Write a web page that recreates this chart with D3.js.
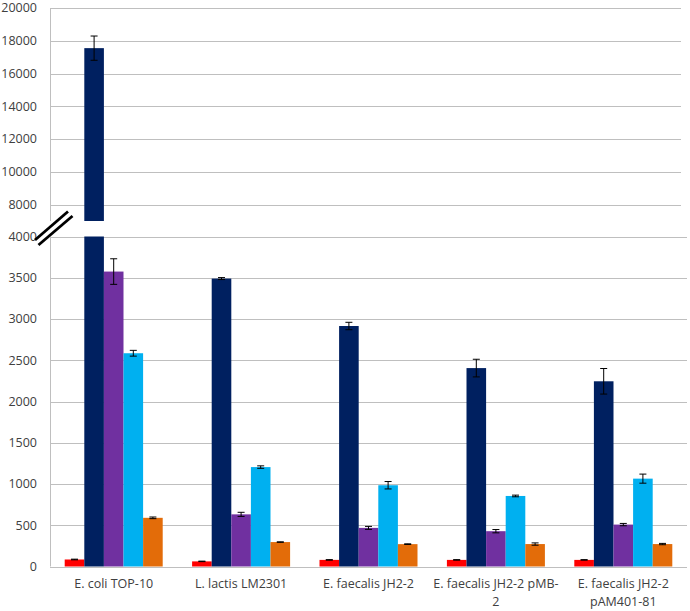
<!DOCTYPE html>
<html>
<head>
<meta charset="utf-8">
<script src="https://cdn.jsdelivr.net/npm/d3@7"></script>
<style>
  html, body { margin: 0; padding: 0; background: #fff; }
  svg { display: block; }
  text { font-family: "Open Sans", "Liberation Sans", sans-serif; }
</style>
</head>
<body>
<svg id="chart" width="690" height="611"></svg>
<script>
// ---- data ----
const categories = ["E. coli TOP-10", "L. lactis LM2301", "E. faecalis JH2-2", "E. faecalis JH2-2 pMB-2", "E. faecalis JH2-2 pAM401-81"];
const categoryLines = [["E. coli TOP-10"], ["L. lactis LM2301"], ["E. faecalis JH2-2"], ["E. faecalis JH2-2 pMB-", "2"], ["E. faecalis JH2-2", "pAM401-81"]];
const seriesNames = ["s1", "s2", "s3", "s4", "s5"];
const seriesColors = ["#ff0000", "#002060", "#7030a0", "#00b0f0", "#e36c09"];
const s1 = [85, 62, 80, 80, 80];
const s2 = [17550, 3490, 2915, 2405, 2245];
const s3 = [3575, 632, 468, 428, 508];
const s4 = [2585, 1205, 985, 855, 1065];
const s5 = [590, 296, 271, 272, 272];
const e1 = [4, 3, 3, 3, 3];
const e2 = [740, 12, 45, 107, 155];
const e3 = [155, 25, 18, 20, 14];
const e4 = [35, 15, 45, 10, 55];
const e5 = [10, 3, 4, 14, 8];
const lowerTicks = [0, 500, 1000, 1500, 2000, 2500, 3000, 3500, 4000];
const upperTicks = [8000, 10000, 12000, 14000, 16000, 18000, 20000];
const breakLow = 4000, breakHigh = 7000, upperMax = 20000;

const values = [s1, s2, s3, s4, s5];
const errors = [e1, e2, e3, e4, e5];

const svg = d3.select("#chart");
const left = 50, right = 687, rightUpper = 681;

const x0 = d3.scaleBand().domain(categories).range([left, right]);
const bw = x0.bandwidth();
const x1 = d3.scaleBand().domain(seriesNames).range([bw / 2 - 49, bw / 2 + 49]);

const yLow = d3.scaleLinear().domain([0, breakLow]).range([566.5, 236.5]);
const yUp = d3.scaleLinear().domain([breakHigh, upperMax]).range([221, 8]);

const gridColor = "#bfbfbf";
const textColor = "#404040";

// gridlines
svg.append("g").selectAll("line").data(lowerTicks).join("line")
  .attr("x1", left).attr("x2", right)
  .attr("y1", d => Math.round(yLow(d)) + 0.5).attr("y2", d => Math.round(yLow(d)) + 0.5)
  .attr("stroke", gridColor).attr("stroke-width", 1.2);
svg.append("g").selectAll("line").data(upperTicks).join("line")
  .attr("x1", left).attr("x2", rightUpper)
  .attr("y1", d => Math.round(yUp(d)) + 0.5).attr("y2", d => Math.round(yUp(d)) + 0.5)
  .attr("stroke", gridColor).attr("stroke-width", 1.2);

// y axis lines
svg.append("line").attr("x1", left + 0.5).attr("x2", left + 0.5)
  .attr("y1", yUp(upperMax)).attr("y2", yUp(breakHigh)).attr("stroke", gridColor);
svg.append("line").attr("x1", left + 0.5).attr("x2", left + 0.5)
  .attr("y1", yLow(breakLow)).attr("y2", yLow(0)).attr("stroke", gridColor);

// tick labels
svg.append("g").selectAll("text").data(lowerTicks).join("text")
  .attr("x", 37).attr("y", d => yLow(d)).attr("dy", "0.35em")
  .attr("text-anchor", "end").attr("font-size", 12.5).attr("fill", textColor)
  .text(d => d);
svg.append("g").selectAll("text").data(upperTicks).join("text")
  .attr("x", 37).attr("y", d => yUp(d)).attr("dy", "0.35em")
  .attr("text-anchor", "end").attr("font-size", 12.5).attr("fill", textColor)
  .text(d => d);

// bars
const bars = [];
values.forEach((arr, si) => {
  arr.forEach((v, ci) => {
    bars.push({ si, ci, v, e: errors[si][ci], cat: categories[ci], ser: seriesNames[si] });
  });
});

const gBars = svg.append("g");
bars.forEach(b => {
  const xb = x0(b.cat) + x1(b.ser);
  const w = x1.bandwidth();
  const lowTop = yLow(Math.min(b.v, breakLow));
  gBars.append("rect").attr("x", xb).attr("width", w)
    .attr("y", lowTop).attr("height", yLow(0) - lowTop)
    .attr("fill", seriesColors[b.si]);
  if (b.v > breakLow) {
    const upTop = yUp(b.v);
    gBars.append("rect").attr("x", xb).attr("width", w)
      .attr("y", upTop).attr("height", yUp(breakHigh) - upTop)
      .attr("fill", seriesColors[b.si]);
  }
});

// error bars
const gErr = svg.append("g").attr("stroke", "#000").attr("stroke-width", 1);
bars.forEach(b => {
  const cx = x0(b.cat) + x1(b.ser) + x1.bandwidth() / 2;
  const sc = b.v > breakLow ? yUp : yLow;
  const yTop = sc(b.v + b.e), yBot = sc(b.v - b.e);
  gErr.append("line").attr("x1", cx).attr("x2", cx).attr("y1", yTop).attr("y2", yBot);
  gErr.append("line").attr("x1", cx - 3.5).attr("x2", cx + 3.5).attr("y1", yTop).attr("y2", yTop);
  gErr.append("line").attr("x1", cx - 3.5).attr("x2", cx + 3.5).attr("y1", yBot).attr("y2", yBot);
});

// axis break mark
const gBreak = svg.append("g");
gBreak.append("line").attr("x1", 36).attr("y1", 242.5).attr("x2", 70).attr("y2", 214)
  .attr("stroke", "#fff").attr("stroke-width", 5);
gBreak.append("line").attr("x1", 35).attr("y1", 240).attr("x2", 68).attr("y2", 211.5)
  .attr("stroke", "#000").attr("stroke-width", 2.8);
gBreak.append("line").attr("x1", 38.5).attr("y1", 245).attr("x2", 72.5).attr("y2", 216)
  .attr("stroke", "#000").attr("stroke-width", 2.8);

// category labels
const gCat = svg.append("g");
categories.forEach((c, i) => {
  const cx = x0(c) + bw / 2;
  categoryLines[i].forEach((ln, li) => {
    gCat.append("text").attr("x", cx).attr("y", 588 + li * 18)
      .attr("text-anchor", "middle").attr("font-size", 12.5).attr("fill", textColor)
      .text(ln);
  });
});
</script>
</body>
</html>
